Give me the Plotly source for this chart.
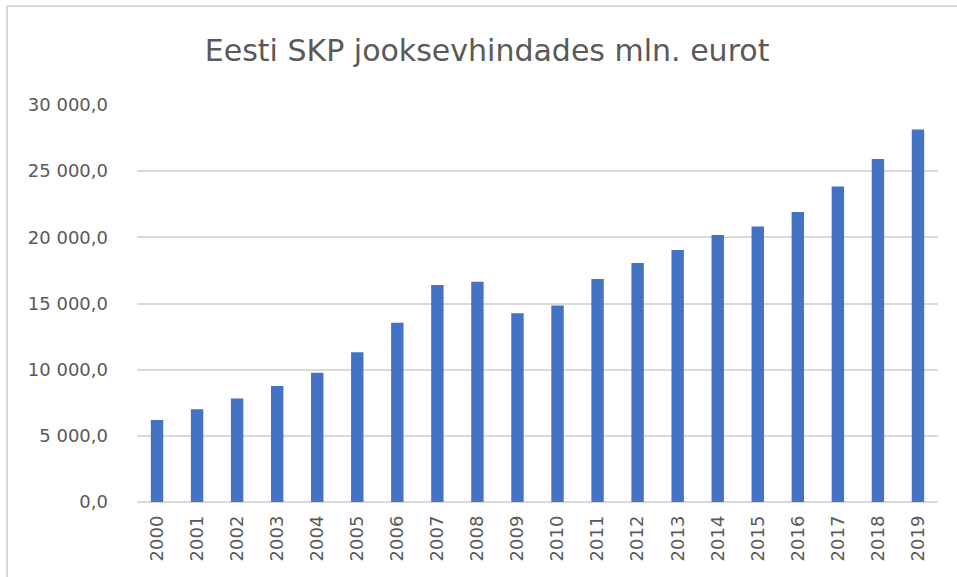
import plotly.graph_objects as go

years = [str(y) for y in range(2000, 2020)]
gdp = [6190, 7000, 7830, 8770, 9770, 11320, 13540, 16390, 16640, 14270,
       14850, 16850, 18060, 19050, 20180, 20810, 21920, 23840, 25910, 28140]
y_ticks = [0, 5000, 10000, 15000, 20000, 25000, 30000]
title_text = "Eesti SKP jooksevhindades mln. eurot"

fig = go.Figure(go.Bar(x=years, y=gdp, marker=dict(color="#4472C4", line=dict(width=0))))

fig.update_layout(
    width=957, height=577,
    paper_bgcolor="white", plot_bgcolor="white",
    margin=dict(l=137, r=19, t=105, b=75),
    separators=", ",
    bargap=0.69,
    showlegend=False,
    title=dict(text=title_text, x=0.509, xref="container", xanchor="center",
               y=1 - 50 / 577, yref="container", yanchor="middle",
               font=dict(family="DejaVu Sans", size=30, color="#595959")),
    font=dict(family="DejaVu Sans", color="#595959"),
    shapes=[
        dict(type="line", xref="paper", yref="paper", x0=-130/801, x1=-130/801,
             y0=1 + 99/397, y1=-75/397, line=dict(color="#D9D9D9", width=2)),
        dict(type="line", xref="paper", yref="paper", x0=-130/801, x1=1 + 19/801,
             y0=1 + 99/397, y1=1 + 99/397, line=dict(color="#D9D9D9", width=2)),
    ],
)

fig.update_yaxes(range=[0, 30000], tickvals=y_ticks, tickformat=",.1f",
                 showgrid=True, gridcolor="#D9D9D9", gridwidth=1.5,
                 zeroline=True, zerolinecolor="#D9D9D9", zerolinewidth=1.5,
                 showline=False, ticks="", ticklabelstandoff=28,
                 tickfont=dict(family="DejaVu Sans", size=18, color="#595959"))
fig.update_xaxes(tickangle=-90, showgrid=False, showline=False, ticks="",
                 ticklabelstandoff=9,
                 tickfont=dict(family="DejaVu Sans", size=18, color="#595959"))

fig.write_html("out.html", config={"displayModeBar": False},
               post_script="document.body.style.margin='0';")
